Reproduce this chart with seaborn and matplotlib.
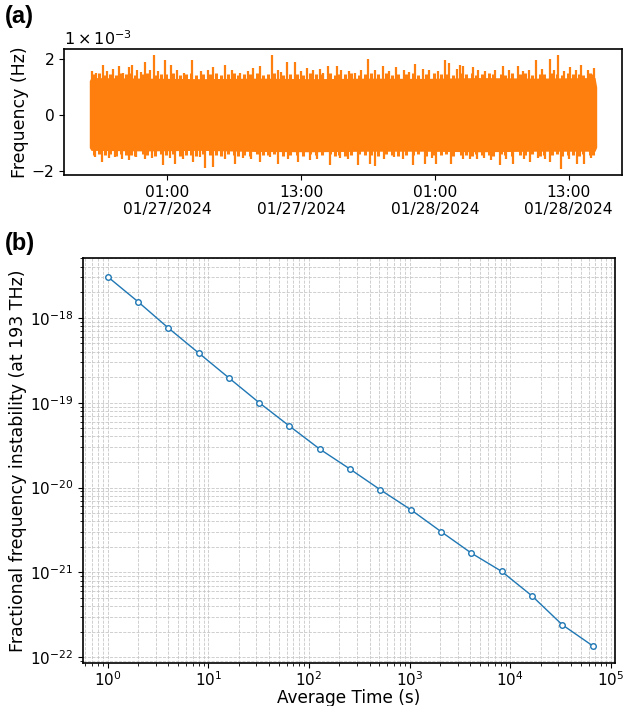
import numpy as np
import pandas as pd
import matplotlib
matplotlib.use('Agg')
import matplotlib.pyplot as plt
import matplotlib.dates as mdates
from matplotlib.ticker import FuncFormatter, LogLocator, NullFormatter
import seaborn as sns

# ---- panel (a): frequency record, values in units of 1e-3 Hz, time in hours from start
start = pd.Timestamp('2024-01-26 18:00')

# solid core of the trace (envelope)
base_h = [0, 0.15, 5, 10, 15, 20, 25, 30, 35, 40, 45.35, 45.5]
base_hi = [1.21, 1.32, 1.30, 1.28, 1.30, 1.28, 1.30, 1.29, 1.32, 1.30, 1.32, 0.98]
base_lo = [-1.18, -1.28, -1.30, -1.28, -1.32, -1.33, -1.31, -1.31, -1.33, -1.31, -1.31, -1.17]

# larger excursions above / below the core
up_h = [0.24, 1.19, 2.63, 3.52, 3.82, 5.01, 5.76, 6.8, 7.34, 9.25, 11.13,
        12.18, 14.71, 15.31, 16.36, 17.76, 18.44, 19.49, 20.68, 21.43, 22.17,
        25.0, 26.35, 27.54, 29.19, 29.93, 31.87, 32.23, 33.2, 33.51, 34.4,
        37.1, 38.4, 40.1, 41.3, 42.0, 43.1, 44.1, 45.3,
        0.6, 1.6, 2.1, 3.0, 4.3, 4.6, 5.4, 6.2, 7.9, 8.5, 10.0, 10.6, 12.8,
        13.5, 14.2, 16.9, 17.2, 19.0, 20.1, 21.0, 22.6, 23.3, 23.8, 24.4, 25.6,
        26.9, 28.2, 28.7, 30.5, 31.3, 33.0, 34.9, 35.5, 36.4, 37.6, 38.9, 39.4,
        40.6, 41.7, 42.6, 43.6, 44.7]
up_v = [1.57, 1.77, 1.73, 1.71, 1.77, 1.89, 2.13, 1.93, 1.77, 1.93, 1.69,
        1.77, 1.65, 1.73, 2.11, 1.87, 1.87, 1.65, 1.63, 1.73, 1.73,
        1.99, 1.75, 1.69, 1.81, 1.61, 1.93, 1.85, 1.77, 1.75, 1.69,
        1.73, 1.75, 1.93, 1.97, 2.11, 1.69, 1.77, 1.65,
        1.50, 1.55, 1.62, 1.50, 1.60, 1.52, 1.60, 1.55, 1.58, 1.50, 1.55, 1.60, 1.58,
        1.50, 1.55, 1.60, 1.52, 1.55, 1.58, 1.50, 1.60, 1.55, 1.50, 1.58, 1.60,
        1.55, 1.58, 1.52, 1.60, 1.55, 1.62, 1.60, 1.55, 1.60, 1.58, 1.55, 1.60,
        1.62, 1.60, 1.55, 1.60, 1.58]
dn_h = [1.16, 2.33, 3.52, 5.01, 6.65, 7.7, 9.34, 10.4, 11.13, 13.07, 15.31,
        16.95, 18.74, 19.78, 21.58, 24.11, 25.16, 25.6, 29.03, 30.08, 31.13,
        32.47, 33.51, 34.1, 36.05, 36.8, 38.0, 39.5, 41.3, 42.3, 43.7, 44.4,
        0.5, 1.8, 2.9, 4.2, 5.6, 7.2, 8.4, 9.9, 12.2, 13.8, 14.5, 16.2, 17.8,
        20.4, 22.5, 23.2, 26.4, 27.3, 28.1, 30.7, 34.8, 35.4, 37.4, 39.0,
        40.2, 40.9, 43.0, 45.0]
dn_v = [-1.70, -1.52, -1.64, -1.58, -1.80, -1.76, -1.70, -1.92, -1.88, -1.76, -1.70,
        -1.76, -1.70, -1.64, -1.82, -1.82, -1.76, -1.85, -1.82, -1.76, -1.76,
        -1.76, -1.58, -1.58, -1.64, -1.82, -1.76, -1.70, -1.70, -1.96, -1.76, -1.76,
        -1.52, -1.55, -1.58, -1.50, -1.56, -1.55, -1.60, -1.52, -1.58, -1.55, -1.60,
        -1.52, -1.58, -1.60, -1.55, -1.58, -1.60, -1.52, -1.58, -1.55, -1.60, -1.55,
        -1.58, -1.60, -1.55, -1.60, -1.58, -1.55]

# small ragged teeth along the edges of the core
small_h = [0.4, 0.9, 1.4, 1.9, 2.4, 2.8, 3.3, 3.7, 4.1, 4.8, 5.2, 5.9, 6.4, 6.9, 7.5,
           8.1, 8.7, 9.1, 9.6, 10.2, 10.8, 11.4, 11.8, 12.4, 13.0, 13.3, 13.9, 14.4,
           15.0, 15.6, 16.0, 16.6, 17.4, 18.0, 18.6, 19.2, 19.8, 20.3, 20.9, 21.6,
           22.0, 22.4, 22.9, 23.5, 24.2, 24.7, 25.3, 25.9, 26.6, 27.1, 27.7, 28.4,
           29.0, 29.5, 30.2, 30.9, 31.5, 32.0, 32.6, 33.3, 33.8, 34.3, 34.7, 35.2,
           35.8, 36.2, 36.9, 37.3, 37.9, 38.6, 39.1, 39.7, 40.4, 40.8, 41.5, 41.9,
           42.4, 42.9, 43.4, 43.9, 44.3, 44.9, 45.2]
small_up = [1.44, 1.48, 1.42, 1.46, 1.40, 1.47, 1.43, 1.49, 1.42, 1.45, 1.48, 1.41,
            1.46, 1.44, 1.48, 1.42, 1.45, 1.49, 1.41, 1.46, 1.43, 1.47, 1.42, 1.45,
            1.48, 1.40, 1.46, 1.43, 1.47, 1.41, 1.45, 1.48, 1.42, 1.46, 1.44, 1.40,
            1.47, 1.43, 1.45, 1.49, 1.41, 1.46, 1.44, 1.48, 1.42, 1.45, 1.47, 1.43,
            1.49, 1.41, 1.46, 1.44, 1.48, 1.42, 1.45, 1.47, 1.43, 1.46, 1.40, 1.48,
            1.44, 1.47, 1.42, 1.46, 1.49, 1.43, 1.45, 1.41, 1.47, 1.44, 1.48, 1.42,
            1.46, 1.43, 1.49, 1.45, 1.41, 1.47, 1.44, 1.46, 1.42, 1.48, 1.45]
small_dn = [-1.43, -1.40, -1.46, -1.42, -1.48, -1.41, -1.45, -1.43, -1.47, -1.40,
            -1.44, -1.48, -1.42, -1.46, -1.41, -1.47, -1.43, -1.45, -1.49, -1.42,
            -1.46, -1.44, -1.48, -1.41, -1.45, -1.47, -1.43, -1.49, -1.42, -1.46,
            -1.44, -1.40, -1.47, -1.43, -1.45, -1.48, -1.42, -1.46, -1.44, -1.41,
            -1.47, -1.43, -1.49, -1.45, -1.42, -1.46, -1.44, -1.48, -1.41, -1.45,
            -1.47, -1.43, -1.46, -1.42, -1.48, -1.44, -1.46, -1.41, -1.47, -1.43,
            -1.45, -1.49, -1.42, -1.46, -1.44, -1.48, -1.41, -1.45, -1.47, -1.43,
            -1.46, -1.42, -1.48, -1.44, -1.46, -1.41, -1.47, -1.43, -1.45, -1.48,
            -1.42, -1.46, -1.44]

tick_times = ['2024-01-27 01:00', '2024-01-27 13:00', '2024-01-28 01:00', '2024-01-28 13:00']

# ---- panel (b): Allan deviation
tau = [1, 2, 4, 8, 16, 32, 64, 128, 256, 512, 1024, 2048, 4096, 8192, 16384, 32768, 65536]
adev = [3.05e-18, 1.55e-18, 7.6e-19, 3.86e-19, 1.96e-19, 1.0e-19, 5.3e-20, 2.84e-20,
        1.65e-20, 9.4e-21, 5.5e-21, 3.03e-21, 1.69e-21, 1.03e-21, 5.3e-22, 2.42e-22, 1.37e-22]

orange = '#ff7f0e'
blue = '#1f77b4'

sns.set_style('ticks', rc={'xtick.major.size': 3.5, 'ytick.major.size': 3.5,
                           'xtick.minor.size': 2, 'ytick.minor.size': 2,
                           'xtick.major.pad': 3.5, 'ytick.major.pad': 3.5,
                           'text.color': 'black', 'axes.labelcolor': 'black',
                           'xtick.color': 'black', 'ytick.color': 'black'})
plt.rcParams['font.family'] = ['DejaVu Sans']

fig = plt.figure(figsize=(6.23, 7.06), dpi=100)
ax1 = fig.add_axes([0.1027, 0.7521, 0.8957, 0.1785])
ax2 = fig.add_axes([0.1332, 0.0609, 0.8540, 0.5737])


def to_time(h):
    return (start + pd.to_timedelta(np.asarray(h, dtype=float), unit='h')).to_numpy()


sc = 1e-3
ax1.fill_between(to_time(base_h), np.array(base_lo) * sc, np.array(base_hi) * sc,
                 color=orange, lw=0)
ax1.vlines(to_time(small_h), np.array(small_dn) * sc, np.array(small_up) * sc,
           color=orange, lw=2.2)
ax1.vlines(to_time(up_h), 0, np.array(up_v) * sc, color=orange, lw=1.6)
ax1.vlines(to_time(dn_h), 0, np.array(dn_v) * sc, color=orange, lw=1.6)
ax1.set_xlim(to_time([-2.27])[0], to_time([47.77])[0])
ax1.set_ylim(-2.16e-3, 2.34e-3)
ax1.set_yticks([-2e-3, 0, 2e-3])
ax1.yaxis.set_major_formatter(FuncFormatter(lambda v, p: f'{v / sc:.0f}'.replace('-', '\u2212')))
ax1.set_xticks(pd.to_datetime(tick_times).to_numpy())
ax1.xaxis.set_major_formatter(mdates.DateFormatter('%H:%M\n%m/%d/%Y'))
ax1.tick_params(labelsize=11.2)
ax1.set_ylabel('Frequency (Hz)', fontsize=12.5, labelpad=2)
ax1.text(0.0, 1.01, r'$1\times10^{-3}$', transform=ax1.transAxes, fontsize=11.5,
         ha='left', va='bottom')
for lbl in ax1.get_xticklabels():
    lbl.set_ha('center')

sns.lineplot(x=tau, y=adev, ax=ax2, color=blue, lw=1, marker='o', markersize=4,
             markerfacecolor='white', markeredgecolor=blue, markeredgewidth=1)
ax2.set_xscale('log')
ax2.set_yscale('log')
ax2.set_xlim(10 ** -0.245, 10 ** 5.04)
ax2.set_ylim(10 ** -22.067, 10 ** -17.295)
ax2.xaxis.set_minor_locator(LogLocator(base=10, subs=np.arange(2, 10), numticks=20))
ax2.yaxis.set_minor_locator(LogLocator(base=10, subs=np.arange(2, 10), numticks=20))
ax2.xaxis.set_minor_formatter(NullFormatter())
ax2.yaxis.set_minor_formatter(NullFormatter())
ax2.grid(True, which='both', ls='--', lw=0.6, color='0.78')
ax2.tick_params(labelsize=11)
ax2.tick_params(axis='x', which='major', pad=2)
ax2.set_xlabel('Average Time (s)', fontsize=12.2, labelpad=0)
ax2.set_ylabel('Fractional frequency instability (at 193 THz)', fontsize=12.5, labelpad=2)

for ax in (ax1, ax2):
    for s in ax.spines.values():
        s.set_color('black')
        s.set_linewidth(1.2)

fig.text(0.008, 0.993, '(a)', fontsize=17, fontweight='bold', family='Liberation Sans',
         ha='left', va='top')
fig.text(0.008, 0.672, '(b)', fontsize=17, fontweight='bold', family='Liberation Sans',
         ha='left', va='top')

fig.savefig('out.png', dpi=100)
